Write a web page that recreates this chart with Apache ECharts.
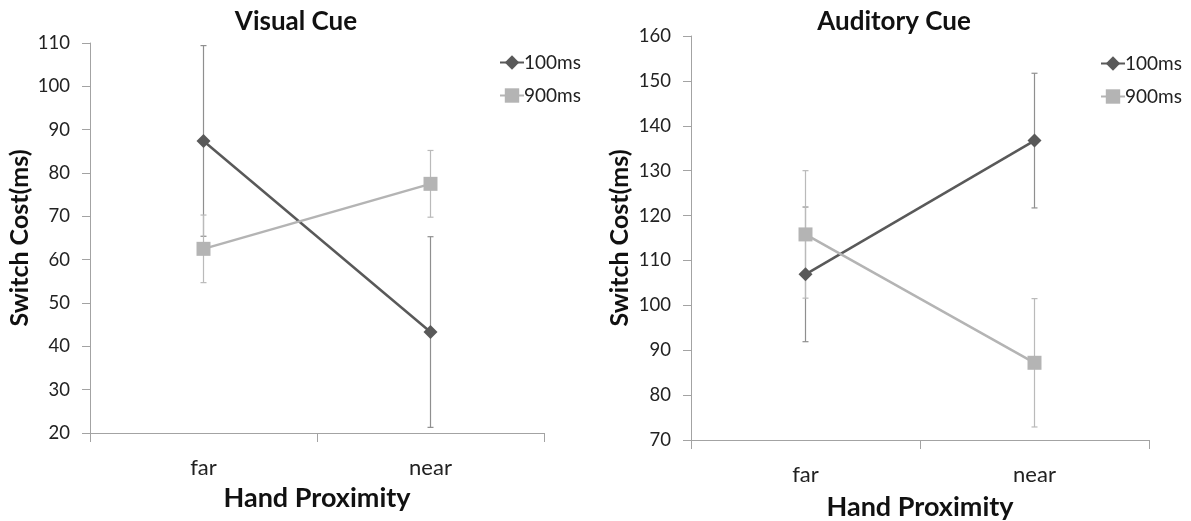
<!DOCTYPE html>
<html>
<head>
<meta charset="utf-8">
<script src="https://cdn.jsdelivr.net/npm/echarts@6/dist/echarts.min.js"></script>
<style>
html,body{margin:0;padding:0;background:#fff;}
#main{width:1191px;height:521px;}
</style>
</head>
<body>
<div id="main"></div>
<script>
// ---- data ----
var categories = ['far', 'near'];
var seriesNames = ['100ms', '900ms'];
// Visual Cue
var visual100 = [87.4, 43.3];
var visual100Err = [22.0, 22.0];
var visual900 = [62.5, 77.5];
var visual900Err = [7.8, 7.7];
// Auditory Cue
var auditory100 = [106.9, 136.7];
var auditory100Err = [15.0, 15.0];
var auditory900 = [115.8, 87.2];
var auditory900Err = [14.2, 14.3];
var titles = ['Visual Cue', 'Auditory Cue'];
var yName = 'Switch Cost(ms)';
var xName = 'Hand Proximity';

var FONT = 'Lato, "Open Sans", sans-serif';
var C100 = '#595959', C900 = '#b4b4b4';
var E100 = '#8f8f8f', E900 = '#bababa';
var AX = '#a3a3a3';

function errData(vals, errs) {
  return vals.map(function (v, i) { return [i, v - errs[i], v + errs[i]]; });
}
function errSeries(name, idx, vals, errs, color) {
  return {
    name: name, type: 'custom', xAxisIndex: idx, yAxisIndex: idx, z: 1,
    data: errData(vals, errs), silent: true,
    renderItem: function (params, api) {
      var x = api.value(0);
      var lo = api.coord([x, api.value(1)]);
      var hi = api.coord([x, api.value(2)]);
      var w = 3;
      var st = { stroke: color, lineWidth: 1.2 };
      return { type: 'group', children: [
        { type: 'line', shape: { x1: lo[0], y1: lo[1], x2: hi[0], y2: hi[1] }, style: st },
        { type: 'line', shape: { x1: lo[0] - w, y1: lo[1], x2: lo[0] + w, y2: lo[1] }, style: st },
        { type: 'line', shape: { x1: hi[0] - w, y1: hi[1], x2: hi[0] + w, y2: hi[1] }, style: st }
      ]};
    }
  };
}
function lineSeries(name, idx, vals, color, symbol, size) {
  return {
    name: name, type: 'line', xAxisIndex: idx, yAxisIndex: idx, z: 3,
    data: vals, symbol: symbol, symbolSize: size,
    lineStyle: { color: color, width: 2.5 },
    itemStyle: { color: color },
    emphasis: { disabled: true }
  };
}
function xAxis(idx, gap) {
  return {
    type: 'category', gridIndex: idx, data: categories,
    axisLine: { lineStyle: { color: AX, width: 1 } },
    axisTick: { show: true, length: 9, lineStyle: { color: AX } },
    axisLabel: { color: '#222', fontSize: 22, fontFamily: FONT, margin: 24 },
    name: xName, nameLocation: 'middle', nameGap: gap,
    nameTextStyle: { color: '#111', fontSize: 27, fontWeight: 'bold', fontFamily: FONT },
    splitLine: { show: false }
  };
}
function yAxis(idx, min, max, gap) {
  return {
    type: 'value', gridIndex: idx, min: min, max: max, interval: 10,
    axisLine: { show: true, lineStyle: { color: AX } },
    axisTick: { show: true, length: 8, lineStyle: { color: AX } },
    axisLabel: { color: '#222', fontSize: 18.5, fontFamily: FONT, margin: 20 },
    splitLine: { show: false },
    name: yName, nameLocation: 'middle', nameGap: gap,
    nameTextStyle: { color: '#111', fontSize: 25, fontWeight: 'bold', fontFamily: FONT }
  };
}
function legend(left, top) {
  return {
    orient: 'vertical', left: left, top: top, itemGap: 14, itemWidth: 24, itemHeight: 18,
    padding: 0,
    data: seriesNames, selectedMode: false,
    textStyle: { fontSize: 19, color: '#222', fontFamily: FONT, padding: [0, 0, 0, -5] }
  };
}

var chart = echarts.init(document.getElementById('main'), null, { renderer: 'canvas' });
chart.setOption({
  backgroundColor: '#fff',
  animation: false,
  title: [
    { text: titles[0], left: 296, top: 9, textAlign: 'center', padding: 0,
      textStyle: { fontSize: 26, fontWeight: 'bold', color: '#111', fontFamily: FONT } },
    { text: titles[1], left: 894, top: 9, textAlign: 'center', padding: 0,
      textStyle: { fontSize: 26, fontWeight: 'bold', color: '#111', fontFamily: FONT } }
  ],
  legend: [legend(499, 53), legend(1100, 54)],
  grid: [
    { left: 90, top: 43, width: 454, height: 390, containLabel: false, outerBoundsMode: 'none' },
    { left: 691, top: 36, width: 458, height: 404, containLabel: false, outerBoundsMode: 'none' }
  ],
  xAxis: [xAxis(0, 52), xAxis(1, 54)],
  yAxis: [yAxis(0, 20, 110, 58), yAxis(1, 70, 160, 59)],
  series: [
    errSeries('e100v', 0, visual100, visual100Err, E100),
    errSeries('e900v', 0, visual900, visual900Err, E900),
    lineSeries(seriesNames[0], 0, visual100, C100, 'diamond', 14),
    lineSeries(seriesNames[1], 0, visual900, C900, 'rect', 14),
    errSeries('e100a', 1, auditory100, auditory100Err, E100),
    errSeries('e900a', 1, auditory900, auditory900Err, E900),
    lineSeries(seriesNames[0], 1, auditory100, C100, 'diamond', 14),
    lineSeries(seriesNames[1], 1, auditory900, C900, 'rect', 14)
  ]
});
</script>
</body>
</html>
